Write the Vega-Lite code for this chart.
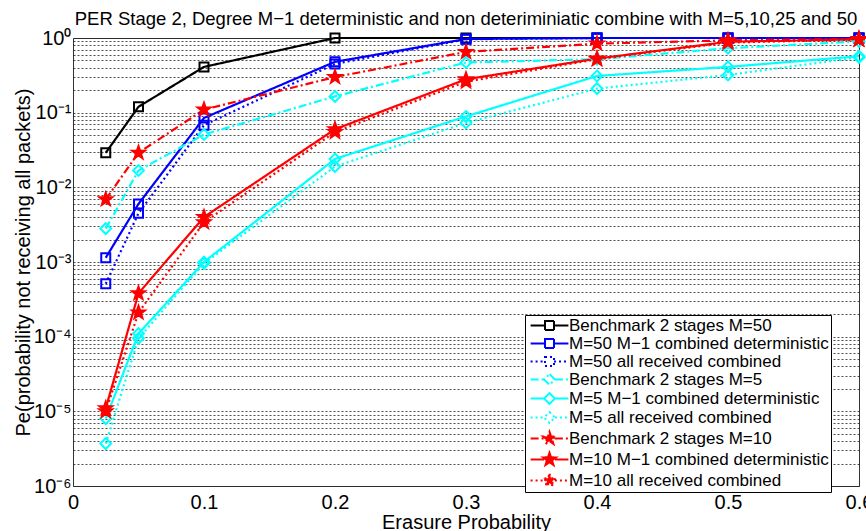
{
  "$schema": "https://vega.github.io/schema/vega-lite/v6.json",
  "width": 786,
  "height": 448,
  "autosize": {"type": "none"},
  "padding": {"left": 73, "top": 38, "right": 7, "bottom": 45},
  "background": "#ffffff",
  "title": {
    "text": "PER Stage 2, Degree M−1 deterministic and non deteriminiatic combine with M=5,10,25 and 50",
    "font": "Liberation Sans", "fontSize": 18.5, "fontWeight": "normal", "color": "#000000",
    "anchor": "middle", "frame": "group", "baseline": "alphabetic", "offset": 12, "dy": 27
  },
  "config": {
    "view": {"stroke": "#333333", "strokeWidth": 1},
    "axis": {
      "labelFont": "Liberation Sans", "titleFont": "Liberation Sans",
      "labelFontSize": 20, "titleFontSize": 20, "titleFontWeight": "normal",
      "labelColor": "#000000", "titleColor": "#000000", "domain": false,
      "tickColor": "#333333", "labelOverlap": false, "labelBound": false, "labelFlush": false
    }
  },
  "data": {"values": [
    {"series": "Benchmark 2 stages M=50", "p": 0.025, "pe": 0.029},
    {"series": "Benchmark 2 stages M=50", "p": 0.05, "pe": 0.12},
    {"series": "Benchmark 2 stages M=50", "p": 0.1, "pe": 0.41},
    {"series": "Benchmark 2 stages M=50", "p": 0.2, "pe": 1.0},
    {"series": "Benchmark 2 stages M=50", "p": 0.3, "pe": 1.0},
    {"series": "Benchmark 2 stages M=50", "p": 0.4, "pe": 1.0},
    {"series": "Benchmark 2 stages M=50", "p": 0.5, "pe": 1.0},
    {"series": "Benchmark 2 stages M=50", "p": 0.6, "pe": 1.0},
    {"series": "M=50 M−1 combined deterministic", "p": 0.025, "pe": 0.00114},
    {"series": "M=50 M−1 combined deterministic", "p": 0.05, "pe": 0.006},
    {"series": "M=50 M−1 combined deterministic", "p": 0.1, "pe": 0.085},
    {"series": "M=50 M−1 combined deterministic", "p": 0.2, "pe": 0.48},
    {"series": "M=50 M−1 combined deterministic", "p": 0.3, "pe": 0.97},
    {"series": "M=50 M−1 combined deterministic", "p": 0.4, "pe": 1.0},
    {"series": "M=50 M−1 combined deterministic", "p": 0.5, "pe": 1.0},
    {"series": "M=50 M−1 combined deterministic", "p": 0.6, "pe": 1.0},
    {"series": "M=50 all received combined", "p": 0.025, "pe": 0.00051},
    {"series": "M=50 all received combined", "p": 0.05, "pe": 0.0045},
    {"series": "M=50 all received combined", "p": 0.1, "pe": 0.068},
    {"series": "M=50 all received combined", "p": 0.2, "pe": 0.45},
    {"series": "M=50 all received combined", "p": 0.3, "pe": 0.96},
    {"series": "M=50 all received combined", "p": 0.4, "pe": 1.0},
    {"series": "M=50 all received combined", "p": 0.5, "pe": 1.0},
    {"series": "M=50 all received combined", "p": 0.6, "pe": 1.0},
    {"series": "Benchmark 2 stages M=5", "p": 0.025, "pe": 0.0028},
    {"series": "Benchmark 2 stages M=5", "p": 0.05, "pe": 0.0168},
    {"series": "Benchmark 2 stages M=5", "p": 0.1, "pe": 0.051},
    {"series": "Benchmark 2 stages M=5", "p": 0.2, "pe": 0.165},
    {"series": "Benchmark 2 stages M=5", "p": 0.3, "pe": 0.47},
    {"series": "Benchmark 2 stages M=5", "p": 0.4, "pe": 0.52},
    {"series": "Benchmark 2 stages M=5", "p": 0.5, "pe": 0.73},
    {"series": "Benchmark 2 stages M=5", "p": 0.6, "pe": 0.9},
    {"series": "M=5 M−1 combined deterministic", "p": 0.025, "pe": 0.000008},
    {"series": "M=5 M−1 combined deterministic", "p": 0.05, "pe": 0.00011},
    {"series": "M=5 M−1 combined deterministic", "p": 0.1, "pe": 0.001},
    {"series": "M=5 M−1 combined deterministic", "p": 0.2, "pe": 0.024},
    {"series": "M=5 M−1 combined deterministic", "p": 0.3, "pe": 0.089},
    {"series": "M=5 M−1 combined deterministic", "p": 0.4, "pe": 0.31},
    {"series": "M=5 M−1 combined deterministic", "p": 0.5, "pe": 0.41},
    {"series": "M=5 M−1 combined deterministic", "p": 0.6, "pe": 0.57},
    {"series": "M=5 all received combined", "p": 0.025, "pe": 0.0000037},
    {"series": "M=5 all received combined", "p": 0.05, "pe": 0.000095},
    {"series": "M=5 all received combined", "p": 0.1, "pe": 0.00096},
    {"series": "M=5 all received combined", "p": 0.2, "pe": 0.019},
    {"series": "M=5 all received combined", "p": 0.3, "pe": 0.073},
    {"series": "M=5 all received combined", "p": 0.4, "pe": 0.21},
    {"series": "M=5 all received combined", "p": 0.5, "pe": 0.32},
    {"series": "M=5 all received combined", "p": 0.6, "pe": 0.55},
    {"series": "Benchmark 2 stages M=10", "p": 0.025, "pe": 0.0069},
    {"series": "Benchmark 2 stages M=10", "p": 0.05, "pe": 0.029},
    {"series": "Benchmark 2 stages M=10", "p": 0.1, "pe": 0.11},
    {"series": "Benchmark 2 stages M=10", "p": 0.2, "pe": 0.3},
    {"series": "Benchmark 2 stages M=10", "p": 0.3, "pe": 0.65},
    {"series": "Benchmark 2 stages M=10", "p": 0.4, "pe": 0.84},
    {"series": "Benchmark 2 stages M=10", "p": 0.5, "pe": 0.93},
    {"series": "Benchmark 2 stages M=10", "p": 0.6, "pe": 0.97},
    {"series": "M=10 M−1 combined deterministic", "p": 0.025, "pe": 0.000011},
    {"series": "M=10 M−1 combined deterministic", "p": 0.05, "pe": 0.00038},
    {"series": "M=10 M−1 combined deterministic", "p": 0.1, "pe": 0.004},
    {"series": "M=10 M−1 combined deterministic", "p": 0.2, "pe": 0.06},
    {"series": "M=10 M−1 combined deterministic", "p": 0.3, "pe": 0.28},
    {"series": "M=10 M−1 combined deterministic", "p": 0.4, "pe": 0.53},
    {"series": "M=10 M−1 combined deterministic", "p": 0.5, "pe": 0.89},
    {"series": "M=10 M−1 combined deterministic", "p": 0.6, "pe": 0.96},
    {"series": "M=10 all received combined", "p": 0.025, "pe": 0.00001},
    {"series": "M=10 all received combined", "p": 0.05, "pe": 0.00021},
    {"series": "M=10 all received combined", "p": 0.1, "pe": 0.0034},
    {"series": "M=10 all received combined", "p": 0.2, "pe": 0.055},
    {"series": "M=10 all received combined", "p": 0.3, "pe": 0.26},
    {"series": "M=10 all received combined", "p": 0.4, "pe": 0.52},
    {"series": "M=10 all received combined", "p": 0.5, "pe": 0.87},
    {"series": "M=10 all received combined", "p": 0.6, "pe": 0.95}
  ]},
  "encoding": {
    "x": {
      "field": "p", "type": "quantitative",
      "scale": {"domain": [0, 0.6], "nice": false, "zero": false},
      "axis": {
        "title": "Erasure Probability", "values": [0, 0.1, 0.2, 0.3, 0.4, 0.5, 0.6],
        "format": "~g", "grid": false, "tickSize": 0, "labelPadding": 6, "titlePadding": 0
      }
    },
    "y": {
      "field": "pe", "type": "quantitative",
      "scale": {"type": "log", "domain": [0.000001, 1], "nice": false},
      "axis": {
        "title": "Pe(probability not receiving all packets)",
        "values": [0.000001,0.000002,0.000003,0.000004,0.000005,0.000006,0.000007,0.000008,0.000009,
                   0.00001,0.00002,0.00003,0.00004,0.00005,0.00006,0.00007,0.00008,0.00009,
                   0.0001,0.0002,0.0003,0.0004,0.0005,0.0006,0.0007,0.0008,0.0009,
                   0.001,0.002,0.003,0.004,0.005,0.006,0.007,0.008,0.009,
                   0.01,0.02,0.03,0.04,0.05,0.06,0.07,0.08,0.09,
                   0.1,0.2,0.3,0.4,0.5,0.6,0.7,0.8,0.9,1],
        "labelExpr": "abs(log(datum.value)/LN10 - round(log(datum.value)/LN10)) < 0.001 ? ['10⁰','10⁻¹','10⁻²','10⁻³','10⁻⁴','10⁻⁵','10⁻⁶'][-round(log(datum.value)/LN10)] : ''",
        "grid": true, "gridDash": [2, 2], "gridColor": "#222222", "gridOpacity": 0.8, "gridWidth": 1,
        "tickSize": 0, "labelPadding": 2, "titlePadding": 0
      }
    },
    "color": {
      "field": "series", "type": "nominal",
      "scale": {
        "domain": ["Benchmark 2 stages M=50","M=50 M−1 combined deterministic","M=50 all received combined","Benchmark 2 stages M=5","M=5 M−1 combined deterministic","M=5 all received combined","Benchmark 2 stages M=10","M=10 M−1 combined deterministic","M=10 all received combined"],
        "range": ["#000000","#0000ff","#0000ff","#00ffff","#00ffff","#00ffff","#ff0000","#ff0000","#ff0000"]
      },
      "legend": {
        "title": null, "orient": "none", "legendX": 452, "legendY": 277,
        "strokeColor": "#000000", "fillColor": "#ffffff", "padding": 2,
        "labelFont": "Liberation Sans", "labelFontSize": 17, "labelColor": "#000000", "labelLimit": 400,
        "symbolSize": 81, "symbolStrokeWidth": 2, "symbolOffset": 14, "labelOffset": 11, "rowPadding": 0,
        "encode": {"symbols": {"update": {
          "shape": {"signal": "indexof(datum.value,'M=10')>=0 ? 'M-4.2,0L-1.2,0M1.2,0L4.2,0M0,-1.5L0.353,-0.485L1.427,-0.464L0.571,0.185L0.882,1.214L0,0.6L-0.882,1.214L-0.571,0.185L-1.427,-0.464L-0.353,-0.485Z' : indexof(datum.value,'M=50')>=0 ? 'M-4.2,0L-1,0M1,0L4.2,0M-1,-1L1,-1L1,1L-1,1Z' : 'M-4.2,0L-1.2,0M1.2,0L4.2,0M0,-1.2L1.2,0L0,1.2L-1.2,0Z'"},
          "strokeDash": {"signal": "indexof(datum.value,'all received')>=0 ? [2,3] : (indexof(datum.value,'Benchmark')>=0 && datum.value != 'Benchmark 2 stages M=50') ? [8,3,2,3] : [1,0]"},
          "fill": {"signal": "indexof(datum.value,'M=10')>=0 ? '#ff0000' : 'transparent'"},
          "opacity": {"value": 1}
        }}}
      }
    }
  },
  "layer": [
    {
      "mark": {"type": "line", "strokeWidth": 2.2},
      "encoding": {
        "strokeDash": {
          "condition": [
            {"test": "indexof(datum.series,'all received')>=0", "value": [2, 3]},
            {"test": "indexof(datum.series,'Benchmark')>=0 && datum.series != 'Benchmark 2 stages M=50'", "value": [8, 3, 2, 3]}
          ],
          "value": [1, 0]
        }
      }
    },
    {
      "mark": {"type": "point", "filled": false, "strokeWidth": 2, "opacity": 1, "size": 81},
      "encoding": {
        "shape": {
          "condition": [
            {"test": "indexof(datum.series,'M=10')>=0", "value": "M0,-1.5L0.353,-0.485L1.427,-0.464L0.571,0.185L0.882,1.214L0,0.6L-0.882,1.214L-0.571,0.185L-1.427,-0.464L-0.353,-0.485Z"},
            {"test": "indexof(datum.series,'M=50')>=0", "value": "M-1,-1L1,-1L1,1L-1,1Z"}
          ],
          "value": "M0,-1.2L1.2,0L0,1.2L-1.2,0Z"
        },
        "fill": {"condition": {"test": "indexof(datum.series,'M=10')>=0", "value": "#ff0000"}, "value": "transparent"}
      }
    }
  ]
}
